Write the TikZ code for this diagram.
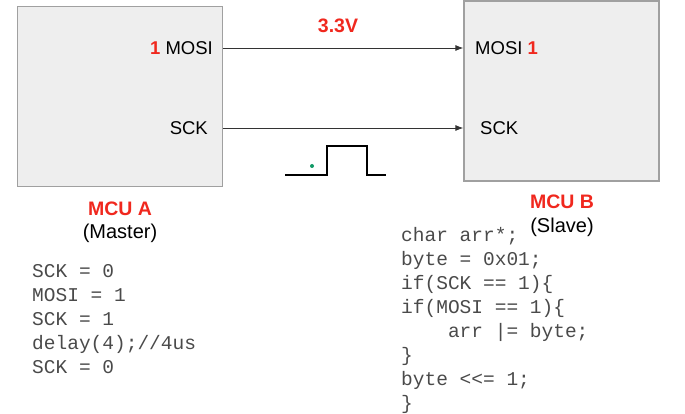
\documentclass[tikz,border=0pt]{standalone}
\usepackage{fontspec}
\setmainfont{Liberation Sans}
\setmonofont{Liberation Mono}
\usetikzlibrary{arrows.meta}
\definecolor{boxfill}{HTML}{EEEEEE}
\definecolor{boxline}{HTML}{A0A0A0}
\definecolor{redlbl}{HTML}{F0281E}
\definecolor{codegray}{HTML}{4A4A4A}
\definecolor{dotgreen}{HTML}{119966}
\tikzset{
  mcu/.style={draw=boxline, line width=1.3pt, fill=boxfill, inner sep=0pt},
  pin/.style={inner sep=0pt, font=\fontsize{18.5}{20}\selectfont, text=black},
  redtitle/.style={inner sep=0pt, font=\fontsize{19.5}{20}\selectfont\bfseries, text=redlbl},
  sublbl/.style={inner sep=0pt, font=\fontsize{20}{22}\selectfont, text=black},
  code/.style={inner sep=0pt, anchor=north west, align=left, text=codegray,
    font=\fontsize{19.5}{24}\selectfont\ttfamily},
  wire/.style={draw=black!80, line width=0.8pt, -{Latex[length=8pt,width=6pt]}},
  pulse/.style={draw=black, line width=2pt}
}
\begin{document}
\begin{tikzpicture}[x=1pt,y=-1pt]
\useasboundingbox (0,0) rectangle (685,414);
% boxes
\node[mcu, minimum width=205pt, minimum height=180pt] (boxA) at (120,96.5) {};
\node[mcu, minimum width=195pt, minimum height=180pt] (boxB) at (561.5,91) {};
% pin labels A
\node[pin, anchor=east] (aMosi) at (213,48) {\textcolor{redlbl}{\textbf{1}} MOSI};
\node[pin, anchor=east] (aSck) at (208,128) {SCK};
% pin labels B
\node[pin, anchor=west] (bMosi) at (475,48) {MOSI \textcolor{redlbl}{\textbf{1}}};
\node[pin, anchor=west] (bSck) at (480,128) {SCK};
% wires
\draw[wire] (boxA.east |- aMosi) -- (boxB.west |- bMosi);
\draw[wire] (boxA.east |- aSck) -- (boxB.west |- bSck);
% voltage label
\node[redtitle] (volt) at (338,26) {3.3V};
% pulse
\draw[pulse] (285,175) -- (327,175) -- (327,146) -- (367,146) -- (367,175) -- (386,175);
\fill[dotgreen] (312,166) circle (2pt);
% titles
\node[redtitle] (titleA) at (120,209) {MCU A};
\node[sublbl] (subA) at (120,233) {(Master)};
\node[redtitle] (titleB) at (562,202) {MCU B};
\node[sublbl] (subB) at (562,227) {(Slave)};
% code
\node[code] (codeA) at (32,264) {SCK = 0\\MOSI = 1\\SCK = 1\\delay(4);//4us\\SCK = 0};
\node[code] (codeB) at (401,227) {char arr*;\\byte = 0x01;\\if(SCK == 1)\{\\if(MOSI == 1)\{\\\ \ \ \ arr |= byte;\\\}\\byte <<= 1;\\\}};
\end{tikzpicture}
\end{document}
